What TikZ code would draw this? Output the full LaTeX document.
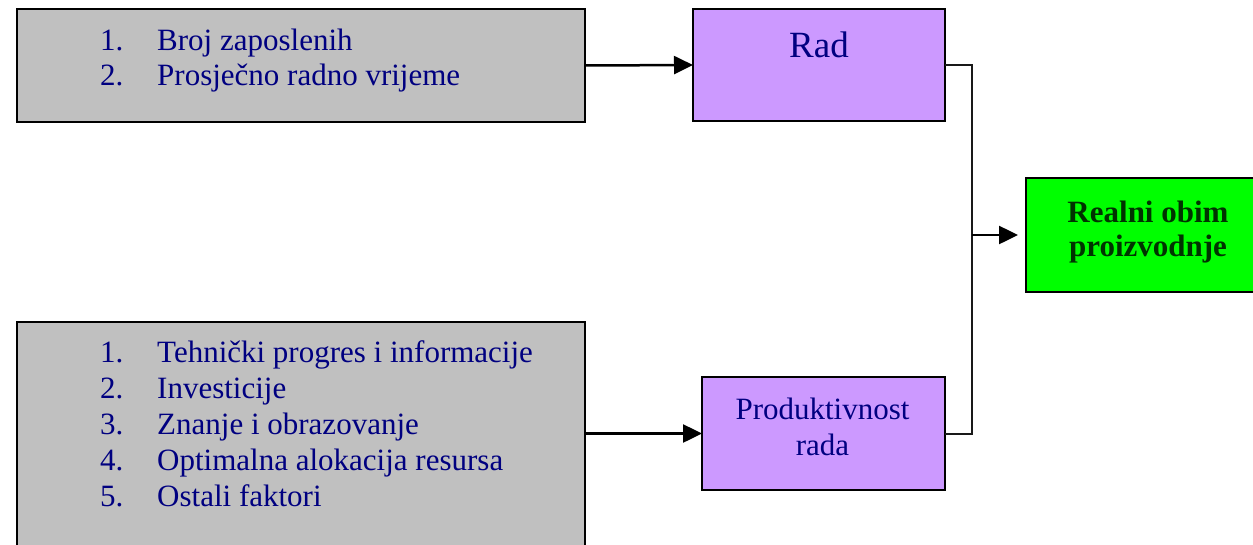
\documentclass[tikz,border=0pt]{standalone}
\usepackage{fontspec}
\setmainfont{Liberation Serif}
\usetikzlibrary{arrows.meta}
\definecolor{boxgray}{HTML}{C0C0C0}
\definecolor{boxpurple}{HTML}{CC99FF}
\definecolor{boxgreen}{HTML}{00FF00}
\definecolor{navytext}{HTML}{000080}
\definecolor{greentext}{HTML}{003300}
\tikzset{
  panel/.style={draw=black, line width=2.5pt, inner sep=0pt, outer sep=0pt},
  listtxt/.style={anchor=base west, inner sep=0pt, text=navytext, font=\fontsize{31}{36}\selectfont},
  ctrtxt/.style={anchor=base, inner sep=0pt, text=navytext, font=\fontsize{31}{36}\selectfont},
  arr/.style={line width=2.5pt, -{Triangle[length=19pt,width=18pt]}},
  link/.style={line width=2pt, draw=black!90},
}
\begin{document}
\begin{tikzpicture}[x=1pt,y=-1pt]
\useasboundingbox (0,0) rectangle (1253,544);
\clip (0,0) rectangle (1253,544);
% boxes
\node[panel, fill=boxgray, minimum width=568pt, minimum height=113pt] (box1) at (301,65.5) {};
\node[panel, fill=boxpurple, minimum width=252pt, minimum height=112pt] (rad) at (819,65) {};
\node[panel, fill=boxgray, minimum width=568pt, minimum height=238pt] (box2) at (301,441) {};
\node[panel, fill=boxpurple, minimum width=243pt, minimum height=113pt] (prod) at (823.5,433.5) {};
\node[panel, fill=boxgreen, minimum width=244pt, minimum height=114pt] (green) at (1148,235) {};
% texts box1
\node[listtxt] (n11) at (100,50) {1.};
\node[listtxt] (t11) at (157,50) {Broj zaposlenih};
\node[listtxt] (n12) at (100,85) {2.};
\node[listtxt] (t12) at (157,85) {Prosječno radno vrijeme};
% texts box2
\node[listtxt] (n21) at (100,362) {1.};
\node[listtxt] (t21) at (157,362) {Tehnički progres i informacije};
\node[listtxt] (n22) at (100,398) {2.};
\node[listtxt] (t22) at (157,398) {Investicije};
\node[listtxt] (n23) at (100,434) {3.};
\node[listtxt] (t23) at (157,434) {Znanje i obrazovanje};
\node[listtxt] (n24) at (100,470) {4.};
\node[listtxt] (t24) at (157,470) {Optimalna alokacija resursa};
\node[listtxt] (n25) at (100,506) {5.};
\node[listtxt] (t25) at (157,506) {Ostali faktori};
% rad text
\node[anchor=base, inner sep=0pt, text=navytext, font=\fontsize{37}{44}\selectfont] (radt) at (819,57) {Rad};
% prod text
\node[ctrtxt] (pt1) at (822.5,419) {Produktivnost};
\node[ctrtxt] (pt2) at (822.5,455) {rada};
% green text
\node[anchor=base, inner sep=0pt, text=greentext, font=\bfseries\fontsize{31}{34}\selectfont] (gt1) at (1148,222) {Realni obim};
\node[anchor=base, inner sep=0pt, text=greentext, font=\bfseries\fontsize{31}{34}\selectfont] (gt2) at (1148,256) {proizvodnje};
% connectors
\coordinate (j) at (972,235);
\draw[link] (rad.east) -| (j) |- (prod.east);
\draw[arr] (box1.east) -- (rad.west);
\draw[arr] (box2.east |- prod.west) -- (prod.west);
\draw[arr, shorten >=8pt] (j) -- (green.west);
\end{tikzpicture}
\end{document}
